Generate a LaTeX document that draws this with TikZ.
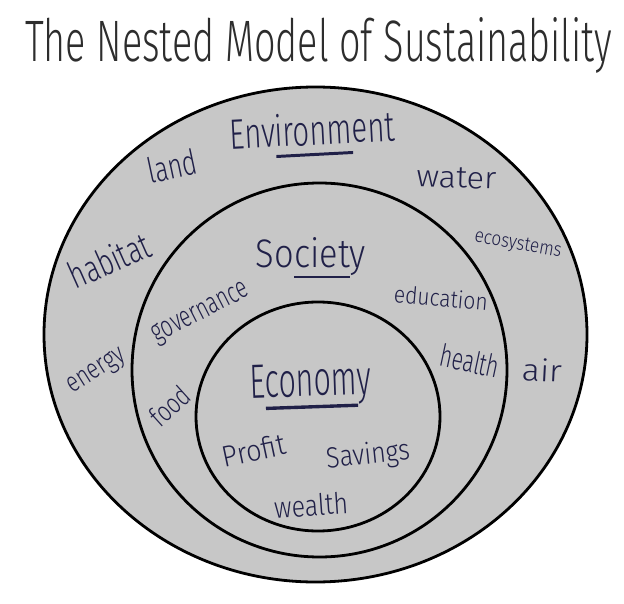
\documentclass[tikz,border=0pt]{standalone}
\usepackage{fontspec}
\usepackage{graphicx}
\newfontfamily\handfont{Fira Sans Light}
\definecolor{ink}{RGB}{32,32,72}
\definecolor{titleink}{RGB}{45,45,45}
\definecolor{ringfill}{RGB}{199,199,199}
% handwritten word squeezed to a measured width and height
\newcommand\hw[3]{\resizebox{#1pt}{#2pt}{#3}}
\newcommand\handul[1]{\sbox0{#1}\rlap{\rule[-2.6pt]{\wd0}{0.7pt}}\usebox0}
\tikzset{
  ring/.style={draw=black, line width=2.8pt, fill=ringfill},
  hand/.style={text=ink, font=\handfont, inner sep=0pt}
}

\begin{document}
\begin{tikzpicture}[x=1pt, y=-1pt]
            \useasboundingbox (0,0) rectangle (624,604);
            % Title
            \node[hand, text=titleink, anchor=base west] (title) at (25,62) {\hw{587}{44}{The Nested Model of Sustainability}};

            % The three nested rings
            \draw[ring] (315.5,334.5) ellipse [x radius=271.5, y radius=247.5];
            \draw[ring] (319.5,370) ellipse [x radius=187.5, y radius=187];
            \draw[ring] (318,416.5) ellipse [x radius=122, y radius=114.5];

            % Environment ring
            \node[hand, anchor=base, rotate=3] (envlabel) at (313,145) {\hw{165}{32}{Env\handul{ironm}ent}};
            \node[hand, rotate=12] (land) at (172,166) {\hw{50}{26}{land}};
            \node[hand, anchor=base, rotate=-2] (water) at (456,188) {\hw{80}{20}{water}};
            \node[hand, rotate=24] (habitat) at (109,260) {\hw{85}{28}{habitat}};
            \node[hand, rotate=-10] (ecosys) at (518,245) {\hw{88}{13}{ecosystems}};
            \node[hand, rotate=32] (energy) at (97,372) {\hw{64}{16}{energy}};
            \node[hand, rotate=-3] (air) at (542,370) {\hw{40}{23}{air}};

            % Society ring
            \node[hand, anchor=base] (soclabel) at (311,268) {\hw{110}{30}{So\handul{ciet}y}};
            \node[hand, rotate=27] (govern) at (201,314) {\hw{105}{17}{governance}};
            \node[hand, rotate=-5] (educ) at (441,298) {\hw{94}{18}{education}};
            \node[hand, rotate=42] (food) at (170,406) {\hw{44}{21}{food}};
            \node[hand, rotate=-12] (health) at (470,361) {\hw{60}{23}{health}};

            % Economy ring
            \node[hand, anchor=base, rotate=2] (ecolabel) at (311,396) {\hw{122}{33}{E\handul{conom}y}};
            \node[hand, rotate=12] (profit) at (254,450) {\hw{64}{22}{Profit}};
            \node[hand, rotate=6] (savings) at (368,456) {\hw{84}{22}{Savings}};
            \node[hand, rotate=4] (wealth) at (311,505) {\hw{74}{22}{wealth}};
          \end{tikzpicture}
\end{document}
